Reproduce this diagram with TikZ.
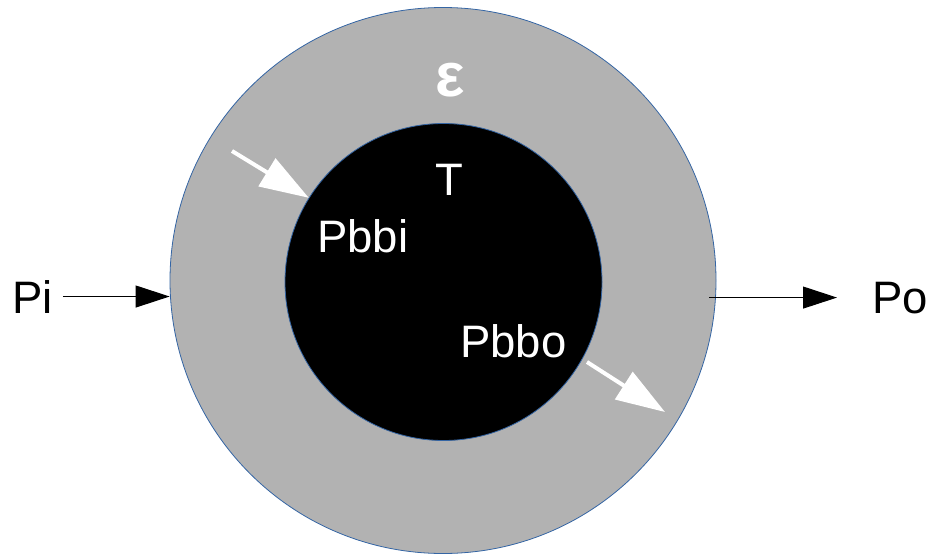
\documentclass[tikz,border=0pt]{standalone}
\usepackage{fontspec}
\setmainfont{Liberation Sans}
\usetikzlibrary{arrows.meta}
\definecolor{ringgray}{RGB}{178,178,178}
\definecolor{edgeblue}{RGB}{52,101,164}
\tikzset{
  lbl/.style={inner sep=0pt, font=\fontsize{45.5}{50}\selectfont},
  blackarrow/.style={line width=1pt, -{Triangle[length=34pt,width=22pt]}},
  whitearrow/.style={draw=white, line width=4pt, -{Triangle[length=49pt,width=32pt,fill=white]}},
}
\begin{document}
\begin{tikzpicture}[x=1pt,y=-1pt]
\useasboundingbox (0,0) rectangle (929,554);
\node[circle, fill=ringgray, draw=edgeblue, line width=0.8pt, minimum size=546pt, inner sep=0pt] (outer) at (443,280.5) {};
\node[circle, fill=black, draw=edgeblue, line width=0.8pt, minimum size=317pt, inner sep=0pt] (inner) at (443.5,282) {};
\node[lbl, anchor=base west] (pi) at (12,313) {Pi};
\node[lbl, anchor=base west] (po) at (872,313) {Po};
\node[lbl, anchor=base west, text=white] (pbbi) at (317,252) {Pbbi};
\node[lbl, anchor=base west, text=white] (pbbo) at (460,357) {Pbbo};
\node[lbl, anchor=base, text=white] (t) at (449.5,195) {T};
\node[inner sep=0pt, anchor=base, text=white, font=\fontsize{62}{70}\selectfont\bfseries] (eps) at (450,96) {ε};
\draw[blackarrow] ([xshift=10pt]pi.east) -- (pi.east -| outer.west);
\draw[blackarrow] ([xshift=-7pt]outer.east |- po.west) -- ([xshift=-35pt]po.west);
\coordinate (bistart) at (232,151);
\coordinate (bostart) at (587,362);
\coordinate (boend) at (665,412);
\draw[whitearrow] (bistart) -- (inner.148.8);
\draw[whitearrow] (bostart) -- (boend);
\end{tikzpicture}
\end{document}
